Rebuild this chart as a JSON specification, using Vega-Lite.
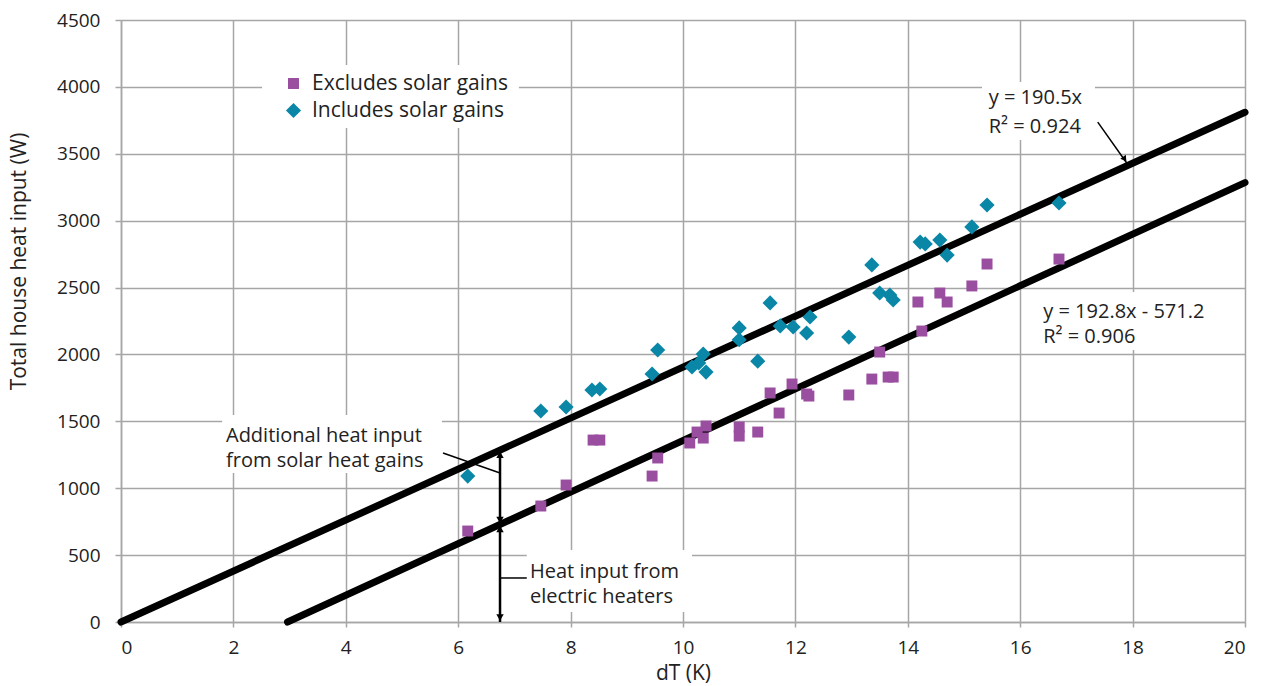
{
  "$schema": "https://vega.github.io/schema/vega-lite/v6.json",
  "width": 1124,
  "height": 602,
  "autosize": "none",
  "padding": {"left": 121, "top": 20, "right": 19, "bottom": 64},
  "background": "white",
  "config": {
    "view": {"stroke": null},
    "font": "Open Sans",
    "axis": {
      "gridColor": "#a6a6a6",
      "gridWidth": 1.5,
      "domainColor": "#a6a6a6",
      "domainWidth": 1.5,
      "tickColor": "#a6a6a6",
      "tickWidth": 1.5,
      "labelFont": "Open Sans",
      "labelFontSize": 19,
      "labelColor": "#222222",
      "labelOverlap": false,
      "titleFont": "Open Sans",
      "titleFontSize": 21,
      "titleFontWeight": "normal",
      "titleColor": "#222222"
    }
  },
  "datasets": {
    "points": [
      {"series": "Includes solar gains", "dT": 6.17, "heat": 1091},
      {"series": "Includes solar gains", "dT": 7.47, "heat": 1577},
      {"series": "Includes solar gains", "dT": 7.92, "heat": 1607},
      {"series": "Includes solar gains", "dT": 8.38, "heat": 1734},
      {"series": "Includes solar gains", "dT": 8.52, "heat": 1742},
      {"series": "Includes solar gains", "dT": 9.45, "heat": 1854},
      {"series": "Includes solar gains", "dT": 9.55, "heat": 2033},
      {"series": "Includes solar gains", "dT": 10.16, "heat": 1906},
      {"series": "Includes solar gains", "dT": 10.28, "heat": 1936},
      {"series": "Includes solar gains", "dT": 10.36, "heat": 2003},
      {"series": "Includes solar gains", "dT": 10.41, "heat": 1868},
      {"series": "Includes solar gains", "dT": 11.0, "heat": 2198},
      {"series": "Includes solar gains", "dT": 11.0, "heat": 2110},
      {"series": "Includes solar gains", "dT": 11.33, "heat": 1950},
      {"series": "Includes solar gains", "dT": 11.55, "heat": 2385},
      {"series": "Includes solar gains", "dT": 11.73, "heat": 2213},
      {"series": "Includes solar gains", "dT": 11.96, "heat": 2205},
      {"series": "Includes solar gains", "dT": 12.2, "heat": 2160},
      {"series": "Includes solar gains", "dT": 12.26, "heat": 2280},
      {"series": "Includes solar gains", "dT": 12.95, "heat": 2130},
      {"series": "Includes solar gains", "dT": 13.36, "heat": 2669},
      {"series": "Includes solar gains", "dT": 13.5, "heat": 2459},
      {"series": "Includes solar gains", "dT": 13.68, "heat": 2444},
      {"series": "Includes solar gains", "dT": 13.74, "heat": 2407},
      {"series": "Includes solar gains", "dT": 14.22, "heat": 2840},
      {"series": "Includes solar gains", "dT": 14.31, "heat": 2826},
      {"series": "Includes solar gains", "dT": 14.57, "heat": 2855},
      {"series": "Includes solar gains", "dT": 14.7, "heat": 2743},
      {"series": "Includes solar gains", "dT": 15.14, "heat": 2953},
      {"series": "Includes solar gains", "dT": 15.41, "heat": 3117},
      {"series": "Includes solar gains", "dT": 16.69, "heat": 3132},
      {"series": "Excludes solar gains", "dT": 6.17, "heat": 680},
      {"series": "Excludes solar gains", "dT": 7.47, "heat": 867},
      {"series": "Excludes solar gains", "dT": 7.92, "heat": 1024},
      {"series": "Excludes solar gains", "dT": 8.4, "heat": 1360},
      {"series": "Excludes solar gains", "dT": 8.52, "heat": 1360},
      {"series": "Excludes solar gains", "dT": 9.45, "heat": 1091},
      {"series": "Excludes solar gains", "dT": 9.55, "heat": 1226},
      {"series": "Excludes solar gains", "dT": 10.12, "heat": 1338},
      {"series": "Excludes solar gains", "dT": 10.25, "heat": 1420},
      {"series": "Excludes solar gains", "dT": 10.36, "heat": 1375},
      {"series": "Excludes solar gains", "dT": 10.41, "heat": 1465},
      {"series": "Excludes solar gains", "dT": 11.0, "heat": 1390},
      {"series": "Excludes solar gains", "dT": 11.0, "heat": 1457},
      {"series": "Excludes solar gains", "dT": 11.33, "heat": 1420},
      {"series": "Excludes solar gains", "dT": 11.55, "heat": 1712},
      {"series": "Excludes solar gains", "dT": 11.71, "heat": 1562},
      {"series": "Excludes solar gains", "dT": 11.94, "heat": 1779},
      {"series": "Excludes solar gains", "dT": 12.2, "heat": 1704},
      {"series": "Excludes solar gains", "dT": 12.24, "heat": 1689},
      {"series": "Excludes solar gains", "dT": 12.95, "heat": 1697},
      {"series": "Excludes solar gains", "dT": 13.36, "heat": 1816},
      {"series": "Excludes solar gains", "dT": 13.5, "heat": 2018},
      {"series": "Excludes solar gains", "dT": 13.65, "heat": 1831},
      {"series": "Excludes solar gains", "dT": 13.74, "heat": 1831},
      {"series": "Excludes solar gains", "dT": 14.18, "heat": 2392},
      {"series": "Excludes solar gains", "dT": 14.25, "heat": 2175},
      {"series": "Excludes solar gains", "dT": 14.57, "heat": 2459},
      {"series": "Excludes solar gains", "dT": 14.7, "heat": 2392},
      {"series": "Excludes solar gains", "dT": 15.14, "heat": 2512},
      {"series": "Excludes solar gains", "dT": 15.41, "heat": 2676},
      {"series": "Excludes solar gains", "dT": 16.69, "heat": 2713}
    ],
    "trends": [
      {"fit": "Includes solar gains", "dT": 0, "heat": 0},
      {"fit": "Includes solar gains", "dT": 20, "heat": 3810},
      {"fit": "Excludes solar gains", "dT": 2.963, "heat": 0},
      {"fit": "Excludes solar gains", "dT": 20, "heat": 3284.8}
    ],
    "boxes": [
      {"x": 2.51, "x2": 7.08, "y": 4164, "y2": 3693},
      {"x": 1.8, "x2": 5.71, "y": 1547, "y2": 1114},
      {"x": 7.22, "x2": 10.16, "y": 538, "y2": 75},
      {"x": 15.32, "x2": 17.33, "y": 4036, "y2": 3603},
      {"x": 16.26, "x2": 19.64, "y": 2467, "y2": 2033}
    ],
    "arrows": [
      {"x": 6.744, "y": 729, "x2": 6.744, "y2": 1284.7},
      {"x": 6.744, "y": 0, "x2": 6.744, "y2": 729}
    ],
    "leaders": [
      {"x": 5.73, "y": 1263, "x2": 6.744, "y2": 1114},
      {"x": 6.744, "y": 329, "x2": 7.22, "y2": 329},
      {"x": 17.38, "y": 3737, "x2": 17.92, "y2": 3416}
    ],
    "headsUp": [
      {"x": 6.744, "y": 1250},
      {"x": 6.744, "y": 695}
    ],
    "headsDown": [
      {"x": 6.744, "y": 763},
      {"x": 6.744, "y": 34}
    ],
    "headsDiag": [
      {"x": 17.86, "y": 3460}
    ],
    "labels": [
      {"text": "Additional heat input", "x": 1.868, "y": 1342},
      {"text": "from solar heat gains", "x": 1.868, "y": 1157},
      {"text": "Heat input from", "x": 7.278, "y": 331},
      {"text": "electric heaters", "x": 7.278, "y": 142},
      {"text": "y = 190.5x", "x": 15.44, "y": 3874},
      {"text": "R² = 0.924", "x": 15.44, "y": 3655},
      {"text": "y = 192.8x - 571.2", "x": 16.41, "y": 2274},
      {"text": "R² = 0.906", "x": 16.41, "y": 2085}
    ]
  },
  "layer": [
    {
      "data": {"name": "boxes"},
      "mark": {"type": "rect", "fill": "white"},
      "encoding": {
        "x": {
          "field": "x", "type": "quantitative",
          "scale": {"domain": [0, 20], "nice": false, "zero": false},
          "axis": {"title": "dT (K)", "format": "d", "values": [0,2,4,6,8,10,12,14,16,18,20], "grid": true, "tickSize": 5, "labelPadding": 11, "titlePadding": 5}
        },
        "x2": {"field": "x2"},
        "y": {
          "field": "y", "type": "quantitative",
          "scale": {"domain": [0, 4500], "nice": false},
          "axis": {"title": "Total house heat input (W)", "format": "d", "values": [0,500,1000,1500,2000,2500,3000,3500,4000,4500], "grid": true, "tickSize": 6, "labelPadding": 15, "titleX": -102, "titleY": 241, "titleBaseline": "middle"}
        },
        "y2": {"field": "y2"}
      }
    },
    {
      "data": {"name": "trends"},
      "mark": {"type": "line", "color": "black", "strokeWidth": 7, "strokeCap": "round"},
      "encoding": {
        "x": {"field": "dT", "type": "quantitative"},
        "y": {"field": "heat", "type": "quantitative"},
        "detail": {"field": "fit"}
      }
    },
    {
      "data": {"name": "points"},
      "mark": {"type": "point", "filled": true, "opacity": 1},
      "encoding": {
        "x": {"field": "dT", "type": "quantitative"},
        "y": {"field": "heat", "type": "quantitative"},
        "color": {
          "field": "series", "type": "nominal",
          "scale": {"domain": ["Excludes solar gains", "Includes solar gains"], "range": ["#9a4e9f", "#0a87a6"]},
          "legend": {
            "orient": "none", "legendX": 162, "legendY": 53, "title": null,
            "labelFontSize": 21, "labelFont": "Open Sans", "labelColor": "#222222", "labelLimit": 400,
            "rowPadding": 5, "labelOffset": 8, "padding": 0
          }
        },
        "shape": {
          "field": "series", "type": "nominal",
          "scale": {"domain": ["Excludes solar gains", "Includes solar gains"], "range": ["square", "diamond"]}
        },
        "size": {
          "field": "series", "type": "nominal",
          "scale": {"domain": ["Excludes solar gains", "Includes solar gains"], "range": [120, 230]},
          "legend": null
        }
      }
    },
    {
      "data": {"name": "arrows"},
      "mark": {"type": "rule", "color": "black", "strokeWidth": 2.5},
      "encoding": {
        "x": {"field": "x", "type": "quantitative"},
        "y": {"field": "y", "type": "quantitative"},
        "x2": {"field": "x2"},
        "y2": {"field": "y2"}
      }
    },
    {
      "data": {"name": "leaders"},
      "mark": {"type": "rule", "color": "black", "strokeWidth": 1.5},
      "encoding": {
        "x": {"field": "x", "type": "quantitative"},
        "y": {"field": "y", "type": "quantitative"},
        "x2": {"field": "x2"},
        "y2": {"field": "y2"}
      }
    },
    {
      "data": {"name": "headsUp"},
      "mark": {"type": "point", "shape": "triangle-up", "filled": true, "color": "black", "size": 55, "opacity": 1},
      "encoding": {
        "x": {"field": "x", "type": "quantitative"},
        "y": {"field": "y", "type": "quantitative"}
      }
    },
    {
      "data": {"name": "headsDown"},
      "mark": {"type": "point", "shape": "triangle-down", "filled": true, "color": "black", "size": 55, "opacity": 1},
      "encoding": {
        "x": {"field": "x", "type": "quantitative"},
        "y": {"field": "y", "type": "quantitative"}
      }
    },
    {
      "data": {"name": "headsDiag"},
      "mark": {"type": "point", "shape": "triangle-up", "filled": true, "color": "black", "size": 45, "opacity": 1, "angle": 145},
      "encoding": {
        "x": {"field": "x", "type": "quantitative"},
        "y": {"field": "y", "type": "quantitative"}
      }
    },
    {
      "data": {"name": "labels"},
      "mark": {"type": "text", "align": "left", "baseline": "alphabetic", "fontSize": 20, "font": "Open Sans", "color": "#222222"},
      "encoding": {
        "x": {"field": "x", "type": "quantitative"},
        "y": {"field": "y", "type": "quantitative"},
        "text": {"field": "text"}
      }
    }
  ]
}
